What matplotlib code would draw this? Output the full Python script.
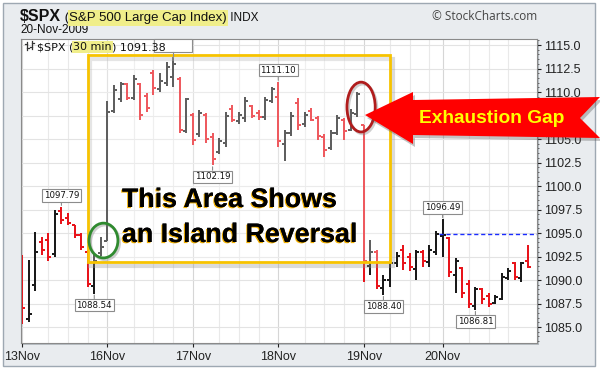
import matplotlib
matplotlib.use('Agg')
import matplotlib.pyplot as plt
import matplotlib.patches as mpatches
import matplotlib.patheffects as pe
from matplotlib.lines import Line2D
from matplotlib.ticker import MultipleLocator, FormatStrFormatter
from matplotlib.transforms import Affine2D
import numpy as np

W, H = 600, 370

# 30 minute bars, 13Nov - 20Nov 2009
day_labels = ['13Nov', '16Nov', '17Nov', '18Nov', '19Nov', '20Nov']
bars_per_day = [13, 13, 13, 13, 12, 14]

opens = [1087.6, 1085.9, 1089.5, 1094.0, 1094.3, 1092.8, 1097.3, 1096.6, 1095.8, 1094.8, 1093.0, 1089.4, 1092.9,
         1094.13, 1108.0, 1109.3, 1110.8, 1109.4, 1110.8, 1109.6, 1112.0, 1110.3, 1111.0, 1111.6, 1111.4, 1105.8,
         1107.6, 1105.5, 1107.6, 1105.2, 1103.6, 1104.6, 1108.2, 1106.9, 1107.2, 1108.5, 1107.8, 1107.3, 1109.0,
         1109.44, 1104.5, 1105.6, 1108.8, 1106.6, 1108.0, 1107.2, 1105.2, 1104.0, 1105.6, 1107.0, 1106.0, 1107.7,
         1106.44, 1091.5, 1093.0, 1089.2, 1090.0, 1091.8, 1093.2, 1092.5, 1091.2, 1093.0, 1091.9, 1093.0,
         1094.66, 1094.5, 1090.5, 1091.3, 1089.6, 1087.2, 1089.0, 1088.3, 1087.6, 1088.0, 1090.2, 1091.8, 1090.2, 1092.0]
highs = [1092.7, 1092.1, 1095.1, 1094.6, 1095.0, 1097.4, 1097.79, 1097.1, 1095.9, 1095.0, 1093.2, 1092.9, 1094.6,
         1109.0, 1110.7, 1111.1, 1111.0, 1111.8, 1111.0, 1109.9, 1112.3, 1112.0, 1113.2, 1113.69, 1111.6, 1109.4,
         1107.8, 1108.1, 1107.8, 1105.6, 1105.1, 1107.9, 1108.6, 1107.9, 1109.5, 1108.6, 1108.1, 1109.5, 1110.5,
         1111.10, 1106.0, 1107.9, 1109.4, 1107.9, 1108.3, 1107.5, 1105.5, 1106.0, 1107.6, 1107.2, 1108.2, 1110.0,
         1106.44, 1094.3, 1093.2, 1090.5, 1092.1, 1093.0, 1093.7, 1092.9, 1093.2, 1093.2, 1093.7, 1095.2,
         1096.49, 1094.6, 1092.3, 1091.4, 1090.0, 1089.3, 1089.1, 1088.6, 1088.4, 1090.7, 1091.3, 1091.9, 1091.9, 1093.7]
lows = [1085.3, 1085.5, 1088.8, 1092.7, 1092.0, 1092.5, 1096.0, 1095.8, 1094.5, 1093.2, 1089.3, 1088.54, 1092.6,
        1094.13, 1107.8, 1108.9, 1109.1, 1109.1, 1107.0, 1107.9, 1109.7, 1110.0, 1110.6, 1110.5, 1105.6, 1105.6,
        1104.4, 1105.2, 1104.6, 1102.19, 1103.4, 1104.1, 1106.8, 1106.6, 1106.8, 1107.2, 1107.0, 1107.0, 1108.8,
        1104.1, 1102.70, 1105.3, 1106.0, 1106.3, 1106.9, 1104.9, 1103.1, 1103.8, 1105.4, 1104.9, 1105.8, 1107.3,
        1089.8, 1090.5, 1089.0, 1088.40, 1089.3, 1091.4, 1091.1, 1091.0, 1090.0, 1091.4, 1091.4, 1092.7,
        1092.5, 1090.3, 1088.6, 1088.1, 1087.0, 1086.81, 1087.5, 1087.1, 1087.4, 1087.9, 1090.0, 1090.0, 1089.8, 1091.3]
closes = [1087.0, 1086.4, 1093.0, 1093.2, 1092.4, 1097.0, 1096.4, 1096.1, 1094.8, 1093.5, 1089.6, 1092.0, 1093.48,
          1107.9, 1110.2, 1110.8, 1109.4, 1111.4, 1107.6, 1108.3, 1110.4, 1111.2, 1112.7, 1113.0, 1106.0, 1109.3,
          1104.9, 1107.8, 1105.0, 1102.9, 1104.8, 1107.5, 1107.0, 1107.6, 1109.0, 1107.5, 1107.3, 1109.2, 1110.3,
          1104.8, 1105.6, 1107.5, 1106.5, 1107.6, 1107.0, 1105.3, 1103.8, 1105.6, 1107.2, 1105.8, 1107.8, 1109.8,
          1092.0, 1093.0, 1089.4, 1090.0, 1091.8, 1092.6, 1091.8, 1091.4, 1093.0, 1092.0, 1093.2, 1094.9,
          1094.8, 1090.8, 1092.0, 1088.6, 1087.5, 1089.0, 1088.0, 1087.5, 1088.2, 1090.3, 1091.0, 1090.3, 1091.8, 1091.38]

# bars that carry a price tag
high_tags = [6, 39, 64]
low_tags = [11, 29, 55, 69]
hidden_tag = 23   # its tag sits under the legend text

opens = np.array(opens)
highs = np.array(highs)
lows = np.array(lows)
closes = np.array(closes)
n = len(closes)
x = np.arange(n)
day_starts = np.concatenate([[0], np.cumsum(bars_per_day)[:-1]])

RED = '#e8141b'
BLK = '#1a1a1a'

fig = plt.figure(figsize=(W / 100, H / 100), dpi=100)
fig.patch.set_facecolor('white')
pix = Affine2D().scale(1 / W, -1 / H).translate(0, 1) + fig.transFigure

# outer frame
frame = mpatches.Rectangle((3, 3), 592, 363, transform=pix, fc='#e9ecef', ec='#9ea8b2', lw=1, zorder=-2)
fig.add_artist(frame)
shadow = mpatches.Rectangle((23, 41), 516, 304, transform=pix, fc='#b8bec4', ec='none', zorder=-1)
fig.add_artist(shadow)

ax = fig.add_axes([21 / W, (H - 343) / H, 516 / W, 304 / H])
ax.set_facecolor('white')
ax.set_xlim(-0.15, 78.37)
ax.set_ylim(1083.30, 1115.64)

# grid
for d in day_starts:
    ax.axvline(d, color='#d6d6d6', lw=0.8, zorder=0)
    for off in (4, 7, 10):
        ax.axvline(d + off, color='#e9e9e9', lw=0.8, zorder=0)
ax.set_yticks(np.arange(1085, 1115.1, 2.5))
ax.yaxis.set_minor_locator(MultipleLocator(0.5))
ax.yaxis.set_major_formatter(FormatStrFormatter('%.1f'))
ax.grid(axis='y', color='#e3e3e3', lw=0.8, zorder=0)
ax.set_axisbelow(True)
ax.yaxis.tick_right()
ax.tick_params(axis='y', which='major', length=3, pad=2, labelsize=9, colors='#222222')
ax.tick_params(axis='y', which='minor', length=1.5, colors='#555555')
ax.set_xticks(day_starts)
ax.set_xticklabels(day_labels)
ax.tick_params(axis='x', length=3, pad=3, labelsize=9, colors='#222222')
fig.canvas.draw()
for lab in ax.get_xticklabels() + ax.get_yticklabels():
    lab.set_family('Liberation Sans')
    if lab.get_text() == '1107.5':
        lab.set_visible(False)   # covered by the arrow in the original
for s in ax.spines.values():
    s.set_color('#8a8a8a')
    s.set_linewidth(0.8)

# OHLC bars
colors = np.where(closes < opens, RED, BLK)
ax.vlines(x, lows, highs, colors=colors, lw=1.44, zorder=2, antialiased=False)
ax.hlines(opens, x - 0.45, x, colors=colors, lw=1.44, zorder=2, antialiased=False)
ax.hlines(closes, x, x + 0.45, colors=colors, lw=1.44, zorder=2, antialiased=False)

# previous close line for last day
ax.hlines(closes[day_starts[-1] - 1], day_starts[-1] - 0.5, ax.get_xlim()[1],
          colors='#1a2cff', linestyles=(0, (3, 2)), lw=1, zorder=2)


# price tags
def price_tag(k, v, above):
    off = 5 if above else -5
    ax.annotate(f'{v:.2f}', xy=(k, v), xytext=(0, off), textcoords='offset points',
                ha='center', va='bottom' if above else 'top', fontsize=6.2,
                family='DejaVu Sans', color='#111111',
                bbox=dict(boxstyle='square,pad=0.2', fc='white', ec='#8c8c8c', lw=0.8),
                arrowprops=dict(arrowstyle='-', color='#8c8c8c', lw=0.8, shrinkA=0, shrinkB=1),
                zorder=4, annotation_clip=False)


for k in high_tags:
    price_tag(k, highs[k], True)
for k in low_tags:
    price_tag(k, lows[k], False)

# the empty-looking tag box at the top (text hidden by the legend)
ax.add_patch(mpatches.Rectangle((hidden_tag - 2.9, highs[hidden_tag] + 0.55), 5.8, 1.35,
                                fc='white', ec='#8c8c8c', lw=0.8, zorder=4, clip_on=False))
ax.plot([hidden_tag, hidden_tag], [highs[hidden_tag] + 0.05, highs[hidden_tag] + 0.55],
        color='#8c8c8c', lw=0.8, zorder=4, clip_on=False)

# island reversal box
box_sh = mpatches.Rectangle((10.4, 1091.5), 46, 22.0, fc='none', ec='#999999', lw=3, alpha=0.35, zorder=3)
ax.add_patch(box_sh)
box = mpatches.Rectangle((10.0, 1091.9), 46, 22.0, fc=(1, 1, 1, 0.3), ec='#f7c300', lw=2, zorder=3)
ax.add_patch(box)

for (cx, cy), w, h, col in (((12.4, 1094.2), 4.4, 3.7, '#2f8a2f'), ((51.6, 1108.4), 4.3, 5.3, '#b01c1c')):
    ax.add_patch(mpatches.Ellipse((cx + 0.25, cy - 0.2), w, h, fc='none', ec='#777777', lw=2,
                                  alpha=0.35, zorder=5))
    ax.add_patch(mpatches.Ellipse((cx, cy), w, h, fc='none', ec=col, lw=2, zorder=5))

glow = [pe.withSimplePatchShadow(offset=(-0.8, -0.8), shadow_rgbFace='#f2b000', alpha=1.0), pe.Normal()]
for txt, py in (('This Area Shows', 207), ('an Island Reversal', 242)):
    fig.text(122 / W, 1 - py / H, txt, fontsize=19.3, fontweight='bold', family='Liberation Sans',
             color='black', va='baseline', ha='left', path_effects=glow, zorder=6)

# exhaustion gap arrow
arrow_pts = [(365, 115), (413, 92), (413, 100), (600, 97), (580, 118), (600, 138),
             (413, 135), (413, 144)]
arrow_sh = mpatches.Polygon([(px + 2, py + 3) for px, py in arrow_pts], closed=True, transform=pix,
                            fc='#555555', ec='none', alpha=0.35, zorder=5)
fig.add_artist(arrow_sh)
arrow = mpatches.Polygon(arrow_pts, closed=True, transform=pix, fc='#ff0000', ec='none', zorder=6)
fig.add_artist(arrow)
fig.text(492 / W, 1 - 118 / H, 'Exhaustion Gap', fontsize=13.8, fontweight='bold', family='Liberation Sans',
         color='#ffff00', ha='center', va='center', zorder=7)

# header texts
renderer = fig.canvas.get_renderer()


def pieces(px, py, parts):
    for txt, kw in parts:
        t = fig.text(px / W, 1 - py / H, txt, va='baseline', ha='left', zorder=8, **kw)
        px += t.get_window_extent(renderer).width


hl = dict(boxstyle='square,pad=0.12', fc='#f0ee8a', ec='none')
pieces(20, 21, [('\\$SPX', dict(fontsize=11.5, fontweight='bold', family='Liberation Sans', color='#111')),
                (' (', dict(fontsize=9.5, family='Liberation Sans', color='#111')),
                ('S&P 500 Large Cap Index)', dict(fontsize=9.5, family='Liberation Sans', color='#111', bbox=hl)),
                (' INDX', dict(fontsize=8.5, family='Liberation Sans', color='#111'))])
fig.text(20 / W, 1 - 33 / H, '20-Nov-2009', fontsize=8.5, family='Liberation Sans', color='#111',
         va='baseline', ha='left')
fig.text(432 / W, 1 - 20 / H, '\u00a9 StockCharts.com', fontsize=8.5, family='Open Sans', color='#444',
         va='baseline', ha='left')

pieces(37, 50, [('\\$SPX (', dict(fontsize=8, family='DejaVu Sans', color='#111')),
                ('30 min', dict(fontsize=8, family='DejaVu Sans', color='#111', bbox=hl)),
                (f') {closes[-1]:.2f}', dict(fontsize=8, family='DejaVu Sans', color='#111'))])

# tiny bar icon in the legend
for bx, top, bot, o, c in ((27, 42, 50, 44, 48), (32, 41, 49, 47, 43)):
    fig.add_artist(Line2D([bx, bx], [top, bot], transform=pix, color='#333', lw=0.9, zorder=8))
    fig.add_artist(Line2D([bx - 2, bx], [o, o], transform=pix, color='#333', lw=0.9, zorder=8))
    fig.add_artist(Line2D([bx, bx + 2], [c, c], transform=pix, color='#333', lw=0.9, zorder=8))

fig.savefig('out.png', dpi=100, facecolor=fig.get_facecolor())
